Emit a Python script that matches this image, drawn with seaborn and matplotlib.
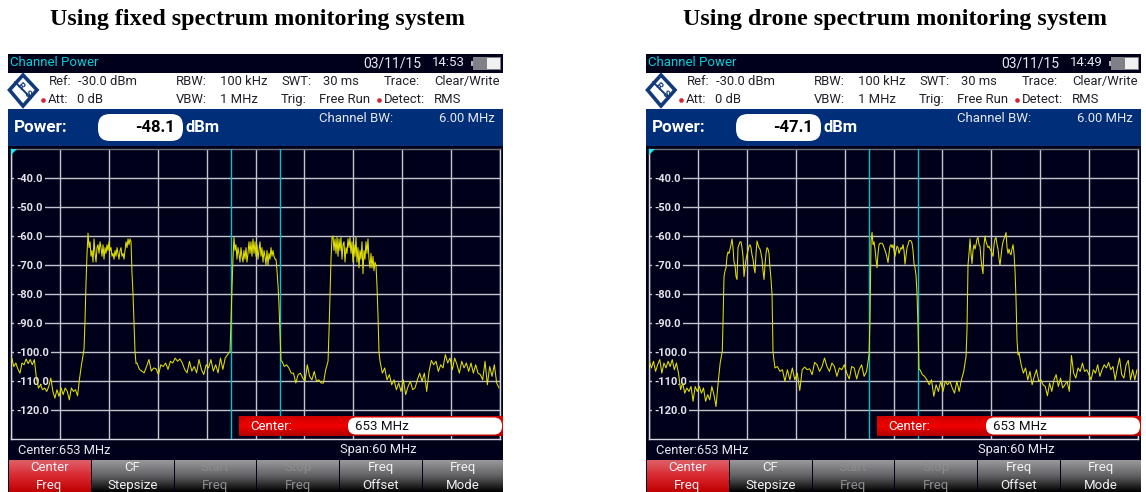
import numpy as np
import pandas as pd
import matplotlib
matplotlib.use('Agg')
import matplotlib.pyplot as plt
from matplotlib.colors import LinearSegmentedColormap
from matplotlib.patches import FancyBboxPatch, Polygon, Rectangle
import seaborn as sns

# sweep axis and level axis of the analyser
freq_start = 623
freq_stop = 683
level_bottom = -130
level_top = -30
freq_ticks = [623, 629, 635, 641, 647, 653, 659, 665, 671, 677, 683]
level_ticks = [-120, -110, -100, -90, -80, -70, -60, -50, -40]
level_labels = ['-120.0', '-110.0', '-100.0', '-90.0', '-80.0', '-70.0', '-60.0', '-50.0', '-40.0']
channel_edges = [650, 656]

# fixed system trace, dBm
fixed_noise_1 = [-102.1, -105, -103.8, -105.9, -107.3, -103.8, -104.4, -102.4, -104, -102.6, -104.4, -102.6, -109,
                 -112.4, -111.3, -113, -112.4, -113.6, -111.9, -109, -113.6, -115.9, -113, -115.3, -112.4, -114.7,
                 -112.4, -113.6, -116.5, -112.4, -113.6, -113, -115.1, -109, -104]
fixed_band_1 = [-99, -89, -76, -66, -59, -64, -62, -67, -65, -69, -61, -66, -69, -64, -63, -66, -62, -64, -67, -63,
                -68, -64, -66, -63, -65, -62, -65, -64, -67, -66, -68, -65, -67, -64, -66, -68, -65, -64, -67, -66,
                -68, -65, -62, -64, -61, -63, -61, -62, -73, -80, -90, -100, -104]
fixed_noise_2 = [-103.8, -106, -106.6, -107.2, -105, -102.6, -106.6, -105.5, -105.8, -107.8, -104.4, -105, -103.8,
                 -106, -103.2, -103.8, -102.1, -103.2, -102.4, -103.8, -106, -107.2, -103.2, -106.6, -105, -107.2,
                 -102.6, -106, -107.8, -104.4, -105.5, -102.6, -106.6, -104.4, -107.2, -102.1, -106, -102.1, -100.9,
                 -99.8]
fixed_band_2 = [-90, -78, -68, -60.5, -65, -63, -68, -64, -66, -69, -64, -67, -69, -65, -68, -64, -69, -66, -62, -66,
                -62, -67, -61, -66, -62, -67, -63, -68, -65, -62, -67, -64, -69, -65, -67, -70, -65, -70, -66, -68,
                -64, -67, -65, -67, -68, -68, -72, -77, -84, -94, -103]
fixed_noise_3 = [-103.2, -105, -104.4, -105.5, -107.3, -107.3, -110.7, -107.8, -107.3, -109, -110.1, -104.4, -108.4,
                 -109.6, -106.7, -110.1, -109.6, -110.7, -110.7, -106.1, -103.2]
fixed_band_3 = [-93, -80, -68, -60.5, -60, -65, -61, -66, -60.5, -67, -61, -65, -60.5, -68, -63, -62, -69, -64, -66,
                -61, -64, -60.5, -66, -62, -69, -63, -67, -60.5, -69, -64, -71, -65, -68, -62, -73, -65, -68, -62,
                -66, -61, -68, -71, -66, -71, -67, -72, -69, -70, -77, -87, -100]
fixed_noise_4 = [-103.2, -107.3, -105.5, -109.6, -107.8, -111.3, -109.6, -113, -110.7, -113.6, -109.6, -114.7, -111.9,
                 -110.1, -113, -112.4, -109.6, -107.3, -110.1, -107.3, -113.6, -106.7, -102.9, -104.4, -103.2, -106.7,
                 -104.4, -105.5, -100.9, -103.8, -102.1, -106.1, -102.1, -104.4, -107.3, -103.2, -105.5, -103.8,
                 -106.7, -103.8, -107.3, -104.4, -107.3, -107.8, -109.6, -103.2, -111.3, -105, -108.4, -104.4,
                 -110.7, -112.4]

# drone system trace, dBm
drone_noise_1 = [-103.2, -105.5, -103.2, -106.7, -104.4, -102.6, -107.3, -103.8, -105.5, -103.2, -105, -102.6, -106.1,
                 -103.8, -107.3, -113, -110.7, -114.2, -112.4, -113.6, -111.9, -117, -111.9, -113.6, -111.9, -114.2,
                 -112.4, -117, -114.7, -116.5, -111.9, -114.7, -118.8, -110.7, -103.8, -99.8]
drone_band_1 = [-90, -74, -72, -71, -67, -65.5, -66, -64.5, -63, -61, -64, -69, -70, -74, -75, -64, -63, -62, -62, -64,
                -67, -74, -71, -68, -66.5, -65, -63.5, -63, -64, -66.5, -68, -71, -72.7, -66, -61.7, -63, -64, -64.5,
                -66, -68, -72, -75, -70, -66, -64, -64.5, -66, -71, -75, -80, -100, -103]
drone_noise_2 = [-105.5, -105, -106.7, -106.1, -110.1, -106.1, -109.6, -105.5, -109.6, -107.3, -113.3, -106.1, -105.2,
                 -106.1, -105.8, -107.8, -103.6, -104.4, -106.7, -105, -102.1, -105, -106.7, -103.8, -105, -108.4,
                 -105.5, -106.1, -104.4, -107.3, -109.3, -105, -105.5, -109.3, -106.1, -104.4, -108.4, -106.7, -100.9]
drone_band_2 = [-88, -62, -58.7, -63, -62, -64.5, -68, -71, -66, -63, -62.5, -62.5, -62.5, -63, -64, -65, -66, -67.5,
                -69.2, -66, -63.5, -63, -64, -63, -65, -67, -65, -63.5, -64, -66, -65, -64, -64.5, -63, -65, -69.7,
                -67, -64, -63, -61.7, -61.5, -61.7, -62.5, -65, -69.5, -71, -73.5, -80, -91, -106]
drone_noise_3 = [-106.1, -107.8, -108.4, -109.6, -111.3, -109.6, -115.3, -111.3, -113.6, -110.1, -113.6, -110.1,
                 -111.3, -110.1, -112.4, -114.2, -110.1, -113.6, -109.6, -106.7, -101.5]
drone_band_3 = [-92, -70, -66, -61, -66, -69.5, -65, -63, -64.5, -63, -61, -60.5, -63, -63.5, -68, -71, -73, -63, -60,
                -62, -63, -64, -63.5, -64.5, -65, -66, -67, -63, -61, -60.5, -63, -64.5, -68, -70, -67, -64, -62, -61,
                -60, -58.8, -64, -66, -64.5, -66, -66.5, -64.5, -63, -66, -72, -82, -96, -101]
drone_noise_4 = [-100.3, -104.4, -107.3, -105.5, -109.6, -106.7, -111.3, -108.4, -106.1, -110.1, -109.6, -111.3,
                 -111.9, -115.1, -110.7, -113.6, -109.6, -107.8, -111.9, -109, -112.4, -111.3, -110.1, -113.6, -101.2,
                 -107.3, -109, -105.5, -106.7, -103.8, -106.7, -106.1, -107.8, -109.6, -106.1, -107.3, -104.4, -108.4,
                 -106.1, -104.4, -105.5, -103.6, -106.1, -105, -109.6, -105.5, -102.1, -107.8, -109, -104.4, -102.9,
                 -109.6, -106.1, -109.6, -106.1]

# first and last frequency of every trace piece, MHz
fixed_spans = [(623.09, 631.67), (631.96, 638.34), (638.46, 649.87), (649.99, 656.13), (656.25, 661.9),
               (662.02, 668.15), (668.28, 682.88)]
drone_spans = [(623.04, 631.99), (632.08, 638.34), (638.46, 650.0), (650.12, 656.13), (656.25, 661.9),
               (662.02, 668.28), (668.4, 682.88)]
fixed_pieces = [fixed_noise_1, fixed_band_1, fixed_noise_2, fixed_band_2, fixed_noise_3, fixed_band_3, fixed_noise_4]
drone_pieces = [drone_noise_1, drone_band_1, drone_noise_2, drone_band_2, drone_noise_3, drone_band_3, drone_noise_4]

softkeys = [('Center', 'Freq'), ('CF', 'Stepsize'), ('Start', 'Freq'), ('Stop', 'Freq'), ('Freq', 'Offset'),
            ('Freq', 'Mode')]

W, H = 1146, 492
SCREEN = '#00001a'
BLUE = '#002e78'

sns.set_theme(style='white')
plt.rcParams['font.family'] = ['Roboto', 'DejaVu Sans']

fig = plt.figure(figsize=(W / 100, H / 100), dpi=100, facecolor='white')
back = fig.add_axes([0, 0, 1, 1], zorder=0)
front = fig.add_axes([0, 0, 1, 1], zorder=2)
for a in (back, front):
    a.set_xlim(0, W)
    a.set_ylim(H, 0)
    a.axis('off')
    a.patch.set_visible(False)


def gradient(a, x0, x1, y0, y1, colors):
    cmap = LinearSegmentedColormap.from_list('g', colors)
    g = np.linspace(0, 1, 64).reshape(-1, 1)
    a.imshow(g, cmap=cmap, extent=(x0, x1, y1, y0), aspect='auto', interpolation='bilinear', zorder=1)
    a.set_xlim(0, W)
    a.set_ylim(H, 0)


def label(a, x, y, s, size=9.4, color='#20202a', weight='normal', ha='left', **kw):
    a.text(x, y, s, fontsize=size, color=color, fontweight=weight, ha=ha, va='center', zorder=5, **kw)


def draw_panel(off, title, title_x, clock, power, pieces, spans):
    fig.text(title_x / W, 1 - 19 / H, title, fontsize=17.3, fontweight='bold', color='black', ha='center',
             va='center', family='Liberation Serif')

    # screen blocks
    back.add_patch(Rectangle((off + 8, 54), 495, 438, fc=SCREEN, ec='none'))
    back.add_patch(Rectangle((off + 8, 72.5), 495, 36.5, fc='white', ec='none'))
    back.add_patch(Rectangle((off + 8, 109), 495, 37, fc=BLUE, ec='none'))

    # status bar
    label(back, off + 10, 63, 'Channel Power', size=9.5, color='#00d0d8')
    label(back, off + 363, 63, '03/11/15', size=10, color='#e8e8f0')
    label(back, off + 432, 63, clock, size=9.5, color='#e8e8f0')
    back.add_patch(Rectangle((off + 473, 57), 28, 13, fc='#808088', ec='none', zorder=2))
    back.add_patch(Rectangle((off + 487, 58), 13, 11, fc='#f0f0f0', ec='none', zorder=3))
    back.add_patch(Rectangle((off + 471, 61), 2, 5, fc='#b0b0b8', ec='none', zorder=2))

    # logo
    back.add_patch(Polygon([(off + 23, 75), (off + 37, 90), (off + 23, 106), (off + 9.5, 90)], closed=True,
                           fc='white', ec='#123a7a', lw=2.6, zorder=3))
    back.plot([off + 15, off + 31], [82, 98], color='#123a7a', lw=1.4, zorder=4)
    label(back, off + 20, 86, 'R', size=6.5, color='#123a7a', weight='bold', ha='center', rotation=-45)
    label(back, off + 27, 94, 'S', size=6.5, color='#123a7a', weight='bold', ha='center', rotation=-45)

    # settings rows
    row_1 = [(49, 'Ref:'), (78, '-30.0 dBm'), (176, 'RBW:'), (220, '100 kHz'), (281, 'SWT:'), (323, '30 ms'),
             (384, 'Trace:'), (434, 'Clear/Write')]
    row_2 = [(48, 'Att:'), (77, '0 dB'), (176, 'VBW:'), (220, '1 MHz'), (281, 'Trig:'), (319, 'Free Run'),
             (384, 'Detect:'), (434, 'RMS')]
    for x, s in row_1:
        label(back, off + x, 81.5, s)
    for x, s in row_2:
        label(back, off + x, 99.5, s)
    back.scatter([off + 43, off + 379], [100, 100], s=11, color='#d82030', zorder=5, linewidths=0)

    # power readout
    label(back, off + 14, 128, 'Power:', size=12.3, color='white', weight='bold')
    back.add_patch(FancyBboxPatch((off + 98, 114), 85, 27, boxstyle='round,pad=0,rounding_size=12', fc='white',
                                  ec='none', zorder=3))
    label(back, off + 175, 128, power, size=12, color='black', weight='bold', ha='right')
    label(back, off + 186, 128, 'dBm', size=12, color='white', weight='bold')
    label(back, off + 319, 118, 'Channel BW:', size=9.5, color='#e8e8f0')
    label(back, off + 439, 118, '6.00 MHz', size=9.4, color='#e8e8f0')

    # the trace
    ax = fig.add_axes([(off + 11) / W, (H - 439) / H, 489 / W, 290 / H], zorder=1)
    ax.set_facecolor(SCREEN)
    freq = np.concatenate([np.linspace(s[0], s[1], len(p)) for s, p in zip(spans, pieces)])
    df = pd.DataFrame({'freq': freq, 'level': np.concatenate(pieces)})
    for edge in channel_edges:
        ax.axvline(edge, color='#00c4cc', lw=1, zorder=3)
    sns.lineplot(data=df, x='freq', y='level', ax=ax, color='#e0e000', lw=0.75, estimator=None, sort=False, zorder=4)
    ax.set_xlim(freq_start, freq_stop)
    ax.set_ylim(level_bottom, level_top)
    ax.set_xlabel('')
    ax.set_ylabel('')
    ax.set_xticks(freq_ticks)
    ax.set_yticks(level_ticks)
    ax.set_yticklabels(level_labels)
    ax.grid(True, color='#c4c4cc', lw=1)
    ax.set_axisbelow(True)
    ax.tick_params(axis='x', length=0, labelbottom=False)
    ax.tick_params(axis='y', length=0, pad=-3.6, labelsize=8, labelcolor='#e4e4ec')
    for t in ax.get_yticklabels():
        t.set_horizontalalignment('left')
        t.set_fontweight('bold')
        t.set_bbox(dict(fc=SCREEN, ec='none', pad=1.6))
    for spine in ax.spines.values():
        spine.set_color('#d8d8e0')
        spine.set_linewidth(1)
    ax.spines['top'].set_color('#707078')

    # overlays
    front.add_patch(Polygon([(off + 11, 149), (off + 17, 149), (off + 11, 155)], closed=True, fc='#20e8f0', ec='none'))
    gradient(front, off + 239, off + 503, 416, 436, ['#d00000', '#f00000', '#b00000'])
    front.add_patch(FancyBboxPatch((off + 348, 417.5), 154, 17, boxstyle='round,pad=0,rounding_size=8', fc='white',
                                   ec='none', zorder=3))
    label(front, off + 250, 426, 'Center:', size=9.5, color='white')
    label(front, off + 355, 426, '653 MHz', size=9.6, color='#101018')
    label(front, off + 18, 450, 'Center:653 MHz', size=9.3, color='#e8e8f0')
    label(front, off + 340, 450, 'Span:60 MHz', size=9.3, color='#e8e8f0')

    # softkeys
    key_x = [8.5, 91.5, 174.5, 257, 340, 423]
    key_w = [81.5, 81.5, 81, 81.5, 81.5, 80]
    for i, (line_1, line_2) in enumerate(softkeys):
        x0 = off + key_x[i]
        x1 = x0 + key_w[i]
        colors = ['#e06068', '#d82830', '#c00000'] if i == 0 else ['#9a9a9c', '#606062', '#000000']
        gradient(front, x0, x1, 460, 492, colors)
        color = '#8c8c90' if i in (2, 3) else '#f0f0f4'
        label(front, (x0 + x1) / 2, 467.5, line_1, size=9.5, color=color, ha='center')
        label(front, (x0 + x1) / 2, 485.5, line_2, size=9.5, color=color, ha='center')


draw_panel(0, 'Using fixed spectrum monitoring system', 257, '14:53', '-48.1', fixed_pieces, fixed_spans)
draw_panel(638, 'Using drone spectrum monitoring system', 895, '14:49', '-47.1', drone_pieces, drone_spans)

fig.savefig('out.png', dpi=100)
